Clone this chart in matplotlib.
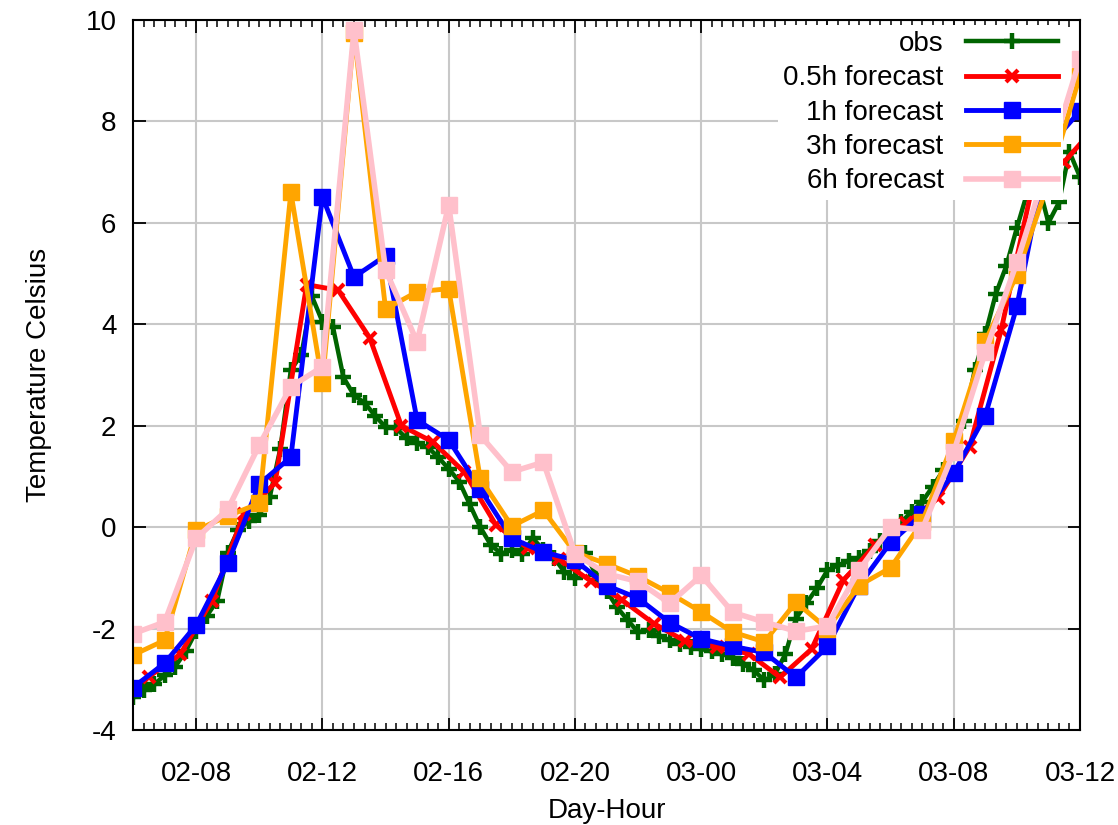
import numpy as np
import matplotlib
matplotlib.use("Agg")
import matplotlib.pyplot as plt
from matplotlib.ticker import MultipleLocator

plt.rcParams['font.family'] = ['Liberation Sans', 'DejaVu Sans']
plt.rcParams['axes.unicode_minus'] = False

# time axis: hours counted from day 02 hour 06
# observations every 20 minutes
obs = [-3.35, -3.2, -3.1, -2.92, -2.75, -2.45, -2.05, -1.75, -1.45, -0.5,
       -0.05, 0.12, 0.24, 0.6, 1.55, 3.1, 3.4, 4.55, 4.05, 3.95,
       2.95, 2.6, 2.45, 2.2, 1.97, 1.95, 1.75, 1.65, 1.58, 1.38,
       1.15, 0.9, 0.45, 0.0, -0.35, -0.52, -0.45, -0.52, -0.22, -0.45,
       -0.6, -0.88, -1.0, -0.5, -0.95, -1.25, -1.58, -1.83, -2.07, -2.03,
       -2.15, -2.22, -2.3, -2.37, -2.4, -2.45, -2.5, -2.58, -2.7, -2.82,
       -3.02, -2.9, -2.5, -1.8, -1.5, -1.2, -0.85, -0.75, -0.67, -0.6,
       -0.47, -0.28, -0.1, 0.1, 0.3, 0.5, 0.8, 1.12, 1.5, 2.1,
       3.1, 3.8, 4.6, 5.15, 5.9, 6.6, 6.8, 6.0, 6.4, 7.4, 6.9]

# 0.5h forecast, valid at half past each hour
fc05 = [-2.95, -2.5, -1.45, 0.25, 0.87, 4.78, 4.67, 3.73, 2.0, 1.68,
        1.08, 0.04, -0.41, -0.63, -1.06, -1.44, -1.9, -2.25, -2.37, -2.49,
        -2.96, -2.4, -1.05, -0.36, 0.08, 0.57, 1.58, 3.88, 6.75, 7.2, 7.9]

# hourly forecasts
fc1 = [-3.16, -2.68, -1.93, -0.71, 0.85, 1.38, 6.51, 4.93, 5.35, 2.11,
       1.72, 0.75, -0.22, -0.49, -0.65, -1.15, -1.4, -1.88, -2.2, -2.35,
       -2.47, -2.96, -2.35, -1.15, -0.3, 0.25, 1.06, 2.2, 4.35, 7.5, 8.2]
fc3 = [-2.52, -2.23, -0.06, 0.22, 0.47, 6.6, 2.84, 9.74, 4.3, 4.64,
       4.7, 0.96, 0.02, 0.33, -0.5, -0.72, -0.97, -1.3, -1.67, -2.07,
       -2.26, -1.48, -2.0, -1.15, -0.8, 0.1, 1.7, 3.67, 4.97, 6.8, 8.9]
fc6 = [-2.1, -1.87, -0.22, 0.35, 1.62, 2.77, 3.16, 9.8, 5.07, 3.65,
       6.35, 1.81, 1.09, 1.28, -0.52, -0.92, -1.07, -1.5, -0.95, -1.68,
       -1.87, -2.05, -1.95, -0.85, 0.0, -0.05, 1.48, 3.45, 5.22, 7.2, 9.23]

tick_labels = ["02-08", "02-12", "02-16", "02-20", "03-00", "03-04", "03-08", "03-12"]


def to_hours(lab):
    d, h = lab.split("-")
    return (int(d) - 2) * 24 + int(h) - 6


obs_x = np.arange(len(obs)) / 3.0
fc05_x = np.arange(len(fc05)) + 0.5
fc_x = np.arange(len(fc1))

fig = plt.figure(figsize=(11.18, 8.25), dpi=100)
ax = fig.add_axes([0.119, 0.115, 0.847, 0.861])

ax.plot(obs_x, obs, color="#006400", lw=3.2, marker="+", ms=11, mew=3.2, label="obs")
ax.plot(fc05_x, fc05, color="red", lw=3.5, marker="x", ms=9, mew=3, label="0.5h forecast")
ax.plot(fc_x, fc1, color="blue", lw=3.5, marker="s", ms=11, label="1h forecast")
ax.plot(fc_x, fc3, color="orange", lw=3.5, marker="s", ms=11, label="3h forecast")
ax.plot(fc_x, fc6, color="pink", lw=4, marker="s", ms=12, label="6h forecast")

ax.set_xlim(0, 30)
ax.set_ylim(-4, 10)
ax.set_xticks([to_hours(t) for t in tick_labels])
ax.set_xticklabels(tick_labels)
ax.xaxis.set_minor_locator(MultipleLocator(1 / 3))
ax.set_yticks(np.arange(-4, 11, 2))

ax.grid(True, color="#c8c8c8", lw=1.5)
ax.set_axisbelow(True)
for s in ax.spines.values():
    s.set_linewidth(1.5)

ax.tick_params(which="major", direction="in", top=True, right=True,
               length=9, width=1.3, labelsize=20, pad=12)
ax.tick_params(axis="x", which="major", pad=22)
ax.tick_params(which="minor", direction="in", top=True, length=5, width=1.1)

ax.set_xlabel("Day-Hour", fontsize=20, labelpad=8)
ax.set_ylabel("Temperature Celsius", fontsize=20, labelpad=24)

leg = ax.legend(loc="upper right", bbox_to_anchor=(0.988, 1.0),
                markerfirst=False, fontsize=20,
                handlelength=3.3, handletextpad=0.8, labelspacing=0.3,
                borderpad=0.2, borderaxespad=0.2, fancybox=False, framealpha=1,
                edgecolor="none", facecolor="white")

fig.savefig("out.png", dpi=100)
